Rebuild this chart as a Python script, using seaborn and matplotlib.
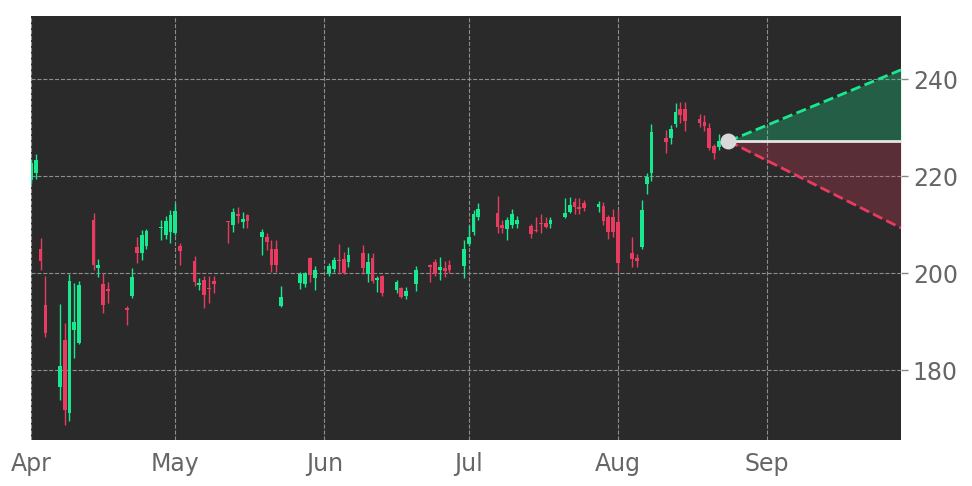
import matplotlib
matplotlib.use("Agg")
import matplotlib.pyplot as plt
import matplotlib.dates as mdates
import seaborn as sns
import pandas as pd

# daily candles, Apr - Aug 2025
dates = [
    "2025-04-01", "2025-04-02", "2025-04-03", "2025-04-04",
    "2025-04-07", "2025-04-08", "2025-04-09", "2025-04-10", "2025-04-11",
    "2025-04-14", "2025-04-15", "2025-04-16", "2025-04-17",
    "2025-04-21", "2025-04-22", "2025-04-23", "2025-04-24", "2025-04-25",
    "2025-04-28", "2025-04-29", "2025-04-30", "2025-05-01", "2025-05-02",
    "2025-05-05", "2025-05-06", "2025-05-07", "2025-05-08", "2025-05-09",
    "2025-05-12", "2025-05-13", "2025-05-14", "2025-05-15", "2025-05-16",
    "2025-05-19", "2025-05-20", "2025-05-21", "2025-05-22", "2025-05-23",
    "2025-05-27", "2025-05-28", "2025-05-29", "2025-05-30",
    "2025-06-02", "2025-06-03", "2025-06-04", "2025-06-05", "2025-06-06",
    "2025-06-09", "2025-06-10", "2025-06-11", "2025-06-12", "2025-06-13",
    "2025-06-16", "2025-06-17", "2025-06-18", "2025-06-20",
    "2025-06-23", "2025-06-24", "2025-06-25", "2025-06-26", "2025-06-27",
    "2025-06-30", "2025-07-01", "2025-07-02", "2025-07-03",
    "2025-07-07", "2025-07-08", "2025-07-09", "2025-07-10", "2025-07-11",
    "2025-07-14", "2025-07-15", "2025-07-16", "2025-07-17", "2025-07-18",
    "2025-07-21", "2025-07-22", "2025-07-23", "2025-07-24", "2025-07-25",
    "2025-07-28", "2025-07-29", "2025-07-30", "2025-07-31", "2025-08-01",
    "2025-08-04", "2025-08-05", "2025-08-06", "2025-08-07", "2025-08-08",
    "2025-08-11", "2025-08-12", "2025-08-13", "2025-08-14", "2025-08-15",
    "2025-08-18", "2025-08-19", "2025-08-20", "2025-08-21", "2025-08-22",
]
opens = [
    219.2, 220.6, 205.0, 193.4,
    176.5, 186.2, 171.1, 188.2, 185.6,
    210.9, 201.0, 197.7, 196.7,
    192.8, 195.3, 205.4, 204.1, 205.6,
    209.2, 207.8, 208.5, 208.2, 205.6,
    202.5, 197.6, 198.6, 197.0, 198.4,
    210.7, 209.9, 212.2, 210.6, 212.0,
    207.5, 207.4, 204.9, 204.9, 193.2,
    197.9, 197.7, 203.2, 198.9,
    199.8, 200.8, 202.7, 203.0, 202.3,
    204.2, 199.9, 203.2, 198.6, 199.4,
    196.6, 197.0, 195.3, 197.7,
    201.6, 202.3, 200.6, 201.0, 201.6,
    201.4, 206.1, 208.5, 211.6,
    212.3, 210.0, 209.0, 209.9, 210.1,
    209.7, 208.9, 210.4, 210.4, 210.2,
    211.6, 212.6, 214.6, 213.7, 214.5,
    213.7, 213.8, 211.6, 211.5, 210.6,
    204.1, 203.2, 205.3, 218.4, 220.6,
    227.9, 227.9, 230.7, 233.9, 233.9,
    231.8, 231.1, 230.0, 226.2, 226.0,
]
highs = [
    223.5, 224.5, 207.2, 199.4,
    193.6, 189.7, 199.8, 197.9, 198.4,
    212.4, 202.9, 200.0, 198.1,
    193.2, 201.0, 207.4, 208.9, 209.1,
    210.9, 211.8, 213.0, 214.4, 206.2,
    203.5, 198.9, 199.4, 199.4, 199.4,
    210.8, 213.4, 213.7, 212.6, 212.2,
    209.0, 208.2, 206.8, 206.8, 197.3,
    200.3, 200.3, 203.4, 201.4,
    202.0, 203.4, 206.0, 204.4, 205.3,
    205.8, 204.2, 204.1, 199.4, 199.6,
    198.6, 197.2, 197.2, 201.4,
    201.9, 203.0, 203.4, 202.5, 202.7,
    206.9, 209.9, 213.1, 214.4,
    215.9, 210.9, 211.6, 213.3, 211.8,
    210.2, 211.6, 212.1, 211.5, 211.5,
    215.4, 215.6, 215.4, 215.4, 215.0,
    214.8, 214.6, 212.0, 213.3, 213.3,
    207.5, 204.0, 215.1, 220.6, 230.7,
    229.5, 230.5, 235.0, 235.3, 235.3,
    232.9, 232.6, 230.9, 226.7, 228.6,
]
lows = [
    218.5, 219.5, 200.6, 186.8,
    173.8, 168.7, 169.5, 182.5, 185.3,
    200.6, 199.2, 191.8, 193.8,
    189.3, 194.8, 202.1, 202.8, 205.0,
    206.8, 207.0, 206.2, 207.9, 201.6,
    197.3, 196.5, 192.8, 193.8, 195.9,
    206.2, 208.5, 210.3, 209.2, 209.4,
    203.7, 204.7, 200.3, 200.3, 193.0,
    196.8, 197.2, 198.2, 196.5,
    199.5, 200.3, 199.9, 199.9, 201.3,
    199.9, 198.2, 197.9, 196.1, 195.3,
    195.8, 194.8, 194.6, 196.4,
    198.2, 199.4, 198.6, 199.1, 200.1,
    199.0, 205.5, 207.8, 211.0,
    208.2, 208.2, 206.8, 209.4, 209.4,
    207.2, 208.5, 208.2, 209.2, 209.4,
    211.3, 212.3, 212.2, 212.2, 212.8,
    212.7, 210.0, 207.1, 207.5, 200.3,
    201.3, 201.3, 205.0, 216.3, 219.0,
    224.7, 226.7, 230.2, 230.9, 229.3,
    230.2, 229.3, 225.4, 223.6, 225.4,
]
closes = [
    222.7, 223.3, 202.5, 187.6,
    180.8, 171.8, 198.4, 189.9, 197.5,
    201.6, 201.6, 193.4, 196.3,
    192.4, 199.2, 204.1, 207.8, 208.7,
    209.6, 210.7, 212.0, 212.8, 204.5,
    198.2, 198.0, 195.5, 196.7, 197.7,
    210.5, 212.6, 211.8, 211.1, 210.8,
    208.5, 206.5, 201.6, 201.6, 195.1,
    199.9, 200.1, 199.6, 200.6,
    201.4, 202.8, 202.4, 200.1, 203.7,
    201.1, 202.3, 198.4, 198.9, 195.8,
    198.2, 195.0, 196.4, 200.6,
    201.2, 199.9, 201.2, 200.5, 200.6,
    204.9, 207.5, 212.2, 213.2,
    209.5, 209.4, 210.9, 212.2, 210.9,
    208.0, 208.7, 210.2, 209.6, 210.9,
    212.3, 214.0, 213.7, 213.2, 213.5,
    214.2, 210.8, 208.5, 208.4, 202.0,
    203.0, 202.5, 213.0, 219.9, 229.0,
    227.1, 229.7, 233.3, 232.6, 231.3,
    230.9, 230.4, 225.8, 224.8, 227.2,
]

# projection cone
cone_start = "2025-08-24"
cone_end = "2025-09-28 21:00"
last_price = 227.2
upper_end = 241.9
lower_end = 209.3

month_ticks = ["2025-04-01", "2025-05-01", "2025-06-01", "2025-07-01", "2025-08-01", "2025-09-01"]
price_ticks = [180, 200, 220, 240]

GREEN = "#18e88f"
RED = "#eb3a5f"
BG = "#2a2a2a"

df = pd.DataFrame({"date": pd.to_datetime(dates), "open": opens, "high": highs,
                   "low": lows, "close": closes})
df["up"] = df["close"] >= df["open"]
df["color"] = df["up"].map({True: GREEN, False: RED})
df["body"] = (df["close"] - df["open"]).where(
    (df["close"] - df["open"]).abs() > 0.25,
    0.25 * ((df["close"] >= df["open"]) * 2 - 1))

sns.set_style("darkgrid", {
    "axes.facecolor": BG,
    "figure.facecolor": "white",
    "grid.color": "#9a9a9a",
    "grid.linestyle": "--",
    "axes.edgecolor": BG,
})
plt.rcParams["font.family"] = ["DejaVu Sans"]

fig = plt.figure(figsize=(9.72, 4.86), dpi=100)
ax = fig.add_axes([31 / 972, 1 - 440 / 486, 870 / 972, 424 / 486])

ax.vlines(df["date"], df["low"], df["high"], colors=df["color"], linewidth=1.0, zorder=3)
ax.bar(df["date"], df["body"], bottom=df["open"], width=0.78,
       color=df["color"], linewidth=0, zorder=4)

t0, t1 = pd.Timestamp(cone_start), pd.Timestamp(cone_end)
ax.fill_between([t0, t1], [last_price, last_price], [last_price, upper_end],
                color=GREEN, alpha=0.28, linewidth=0, zorder=2)
ax.fill_between([t0, t1], [last_price, last_price], [last_price, lower_end],
                color=RED, alpha=0.25, linewidth=0, zorder=2)
cone = pd.DataFrame({"date": [t0, t1, t0, t1],
                     "price": [last_price, upper_end, last_price, lower_end],
                     "side": ["up", "up", "down", "down"]})
sns.lineplot(data=cone, x="date", y="price", hue="side",
             palette={"up": GREEN, "down": RED}, linestyle="--", linewidth=2,
             legend=False, ax=ax, zorder=5)
ax.plot([t0, t1], [last_price, last_price], color="#e4e4e4", linewidth=2, zorder=5)
ax.scatter([t0], [last_price], s=110, color="#d9d9d9", zorder=6)

ax.set_xlim(pd.Timestamp("2025-04-01"), t1)
ax.set_ylim(165.6, 253.0)
ax.set_xticks(pd.to_datetime(month_ticks))
ax.xaxis.set_major_formatter(mdates.DateFormatter("%b"))
ax.set_yticks(price_ticks)
ax.yaxis.tick_right()
ax.tick_params(axis="both", labelsize=17, labelcolor="#666666", color="#888888",
               length=5, width=1)
ax.grid(True, color="#9a9a9a", linestyle="--", linewidth=0.8, alpha=0.9)
ax.set_xlabel("")
ax.set_ylabel("")
for s in ax.spines.values():
    s.set_visible(False)

fig.savefig("out.png", dpi=100)
